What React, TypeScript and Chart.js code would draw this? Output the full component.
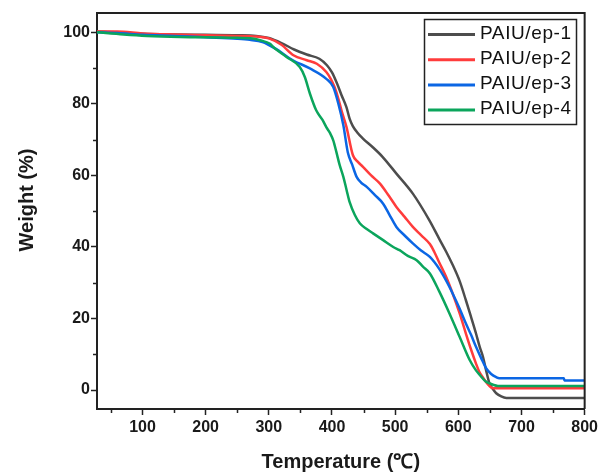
import React, { useEffect, useRef } from "react";
import { Chart, registerables } from "chart.js";

Chart.register(...registerables);

// ---- Data ----
const seriesLabels = ["PAIU/ep-1", "PAIU/ep-2", "PAIU/ep-3", "PAIU/ep-4"];
const seriesColors = ["#4d4d4d", "#ff3c3c", "#0b66e4", "#0ba55c"];

const ep1Temp = [28, 60, 100, 150, 200, 250, 280, 300, 320, 340, 360, 380, 392, 400, 408, 415, 423, 428, 433, 440, 449, 465, 480, 502, 528, 554, 570, 581, 591, 602, 612, 620, 628, 634, 639, 644, 649, 655, 660, 668, 676, 800];
const ep1Weight = [100.2, 100, 99.6, 99.4, 99.3, 99.2, 99, 98.4, 97, 95.2, 93.8, 92.6, 90.8, 88.8, 85.7, 82.5, 79, 75.8, 73.8, 72, 70.3, 67.8, 65.2, 60.5, 54.9, 47.5, 42.2, 38.6, 35.0, 30.5, 25.1, 20.5, 15.8, 12, 9.3, 5.5, 2, 0.2, -0.9, -1.8, -2.2, -2.2];

const ep2Temp = [28, 60, 100, 150, 200, 250, 280, 300, 320, 339, 360, 376, 391, 398, 404, 410, 415, 423, 433, 441, 449, 462, 476, 490, 502, 515, 528, 541, 555, 562, 570, 581, 591, 602, 612, 620, 628, 633, 639, 645, 655, 800];
const ep2Weight = [100.2, 100.2, 99.7, 99.4, 99.2, 99, 98.8, 98.3, 96.5, 93.6, 92.2, 91.2, 88.9, 87, 84.7, 81.5, 78.2, 73.5, 65.7, 63.8, 62.4, 60, 57.7, 54.3, 51.2, 48.4, 45.6, 43.3, 40.8, 38.6, 35.6, 31.5, 27, 21.5, 15.8, 11.4, 7.4, 5.2, 3.5, 2, 0.5, 0.5];

const ep3Temp = [28, 60, 100, 150, 200, 250, 270, 290, 310, 338, 365, 391, 402, 410, 418, 425, 432, 439, 446, 455, 468, 481, 491, 502, 515, 528, 541, 555, 570, 581, 591, 602, 612, 620, 628, 636, 644, 652, 660, 665, 767, 768, 800];
const ep3Weight = [100, 99.8, 99.3, 99, 98.6, 98.2, 97.9, 97.3, 95.5, 92.2, 89.9, 87, 84.7, 80.1, 74, 66.5, 63, 59.6, 58, 56.8, 54.5, 52.1, 49, 45.6, 43.2, 41, 39, 37.2, 33.8, 30.5, 27, 22.8, 18.6, 15.5, 12.1, 9, 6.1, 4.5, 3.6, 3.3, 3.3, 2.7, 2.7];

const ep4Temp = [28, 70, 107, 160, 240, 276, 286, 302, 307, 328, 349, 357, 365, 375, 385, 391, 397, 402, 407, 412, 418, 423, 428, 436, 444, 455, 465, 481, 497, 507, 520, 534, 544, 555, 570, 586, 602, 618, 628, 634, 644, 649, 665, 800];
const ep4Weight = [100, 99.4, 99, 98.7, 98.5, 98.2, 97.8, 96.8, 95.9, 93.1, 90.3, 87.5, 82.9, 78.2, 75.5, 73.5, 71.8, 69.8, 66.5, 63, 59.6, 56, 52.5, 49, 46.6, 45, 43.8, 41.9, 40, 39.1, 37.5, 36.3, 34.5, 32.6, 27.5, 21.4, 14.9, 8.4, 5.5, 4.2, 2.3, 1.9, 1.1, 1.1];

const xMajorTicks = [100, 200, 300, 400, 500, 600, 700, 800];
const xMinorTicks = [50, 150, 250, 350, 450, 550, 650, 750];
const yMajorTicks = [0, 20, 40, 60, 80, 100];
const yMinorTicks = [10, 30, 50, 70, 90];

const xTitle = "Temperature (\u2103)";
const yTitle = "Weight (%)";

const allTemps = [ep1Temp, ep2Temp, ep3Temp, ep4Temp];
const allWeights = [ep1Weight, ep2Weight, ep3Weight, ep4Weight];

const AXIS_COLOR = "#222222";
const FONT = '"Liberation Sans", Arial, sans-serif';

const overlayPlugin = {
  id: "overlay",
  afterDraw(chart: any) {
    const ctx = chart.ctx;
    const area = chart.chartArea;
    const xs = chart.scales.x;
    const ys = chart.scales.y;
    ctx.save();
    // top & right frame
    ctx.strokeStyle = AXIS_COLOR;
    ctx.lineWidth = 2;
    ctx.beginPath();
    ctx.moveTo(area.left, area.top);
    ctx.lineTo(area.right, area.top);
    ctx.lineTo(area.right, area.bottom);
    ctx.stroke();

    // minor ticks
    ctx.lineWidth = 1.5;
    ctx.beginPath();
    xMinorTicks.forEach((v) => {
      const px = Math.round(xs.getPixelForValue(v)) + 0.5;
      ctx.moveTo(px, area.bottom);
      ctx.lineTo(px, area.bottom + 4);
    });
    yMinorTicks.forEach((v) => {
      const py = Math.round(ys.getPixelForValue(v)) + 0.5;
      ctx.moveTo(area.left, py);
      ctx.lineTo(area.left - 4, py);
    });
    ctx.stroke();

    // axis titles
    ctx.fillStyle = "#1a1a1a";
    ctx.font = `bold 20px ${FONT}`;
    ctx.textAlign = "center";
    ctx.textBaseline = "middle";
    ctx.fillText(xTitle, (area.left + area.right) / 2, 462);
    ctx.save();
    ctx.translate(27, 200);
    ctx.rotate(-Math.PI / 2);
    ctx.fillText(yTitle, 0, 0);
    ctx.restore();

    // legend
    const bx = 424.5, by = 19.5, bw = 152, bh = 105;
    ctx.fillStyle = "#ffffff";
    ctx.fillRect(bx, by, bw, bh);
    ctx.strokeStyle = AXIS_COLOR;
    ctx.lineWidth = 1.5;
    ctx.strokeRect(bx, by, bw, bh);
    ctx.font = `19px ${FONT}`;
    ctx.textAlign = "left";
    ctx.textBaseline = "middle";
    (ctx as any).letterSpacing = "0.6px";
    seriesLabels.forEach((label, i) => {
      const ly = 34.5 + i * 25.2;
      ctx.strokeStyle = seriesColors[i];
      ctx.lineWidth = 3;
      ctx.beginPath();
      ctx.moveTo(428, ly);
      ctx.lineTo(475, ly);
      ctx.stroke();
      ctx.fillStyle = "#111111";
      ctx.fillText(label, 480, ly - 1);
    });
    (ctx as any).letterSpacing = "0px";
    ctx.restore();
  },
};

export default function App() {
  const canvasRef = useRef<HTMLCanvasElement | null>(null);

  useEffect(() => {
    if (!canvasRef.current) return;
    const datasets = seriesLabels.map((label, i) => ({
      label,
      data: allTemps[i].map((t, j) => ({ x: t, y: allWeights[i][j] })),
      borderColor: seriesColors[i],
      backgroundColor: seriesColors[i],
      borderWidth: 2.5,
      pointRadius: 0,
      fill: false,
      cubicInterpolationMode: "monotone" as const,
      order: seriesLabels.length - i,
    }));

    const chart = new Chart(canvasRef.current, {
      type: "line",
      data: { datasets },
      plugins: [overlayPlugin],
      options: {
        responsive: false,
        devicePixelRatio: 1,
        animation: false,
        layout: { padding: { top: 13, right: 15, left: 0, bottom: 0 } },
        plugins: {
          legend: { display: false },
          tooltip: { enabled: false },
        },
        scales: {
          x: {
            type: "linear",
            min: 28,
            max: 800,
            afterFit: (s: any) => {
              s.height = 65;
            },
            afterBuildTicks: (s: any) => {
              s.ticks = xMajorTicks.map((v) => ({ value: v }));
            },
            ticks: {
              autoSkip: false,
              maxRotation: 0,
              padding: 3,
              color: "#1a1a1a",
              font: { family: FONT, size: 16, weight: "bold" },
              callback: (v: any) => String(v),
            },
            grid: {
              drawOnChartArea: false,
              drawTicks: true,
              tickLength: 6,
              tickWidth: 1.5,
              tickColor: AXIS_COLOR,
            },
            border: { display: true, color: AXIS_COLOR, width: 2 },
          },
          y: {
            type: "linear",
            min: -5.3,
            max: 105.4,
            afterFit: (s: any) => {
              s.width = 97;
            },
            afterBuildTicks: (s: any) => {
              s.ticks = yMajorTicks.map((v) => ({ value: v }));
            },
            ticks: {
              autoSkip: false,
              padding: 1,
              color: "#1a1a1a",
              font: { family: FONT, size: 16, weight: "bold" },
              callback: (v: any) => String(v),
            },
            grid: {
              drawOnChartArea: false,
              drawTicks: true,
              tickLength: 6,
              tickWidth: 1.5,
              tickColor: AXIS_COLOR,
            },
            border: { display: true, color: AXIS_COLOR, width: 2 },
          },
        },
      },
    } as any);
    return () => chart.destroy();
  }, []);

  return (
    <div
      style={{
        position: "absolute",
        left: 0,
        top: 0,
        width: 601,
        height: 474,
        background: "#ffffff",
      }}
    >
      <canvas ref={canvasRef} width={601} height={474} style={{ display: "block" }} />
    </div>
  );
}
